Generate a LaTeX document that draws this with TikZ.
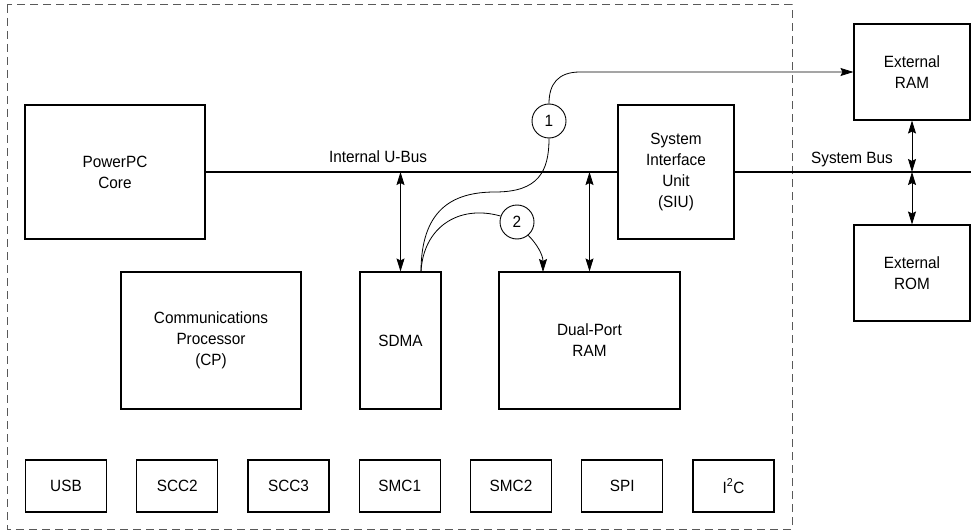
\documentclass[tikz,border=0pt]{standalone}
\usepackage{fontspec}
\setmainfont{Liberation Sans}[FakeStretch=0.94]
\usetikzlibrary{arrows.meta}
\begin{document}
\begin{tikzpicture}[x=1pt,y=-1pt,
  txt/.style={font=\fontsize{16.3}{21}\selectfont},
  blk/.style={draw, line width=1.1pt, align=center, inner sep=0pt, txt},
  lbl/.style={inner sep=0pt, txt, anchor=base},
  num/.style={draw, circle, line width=0.9pt, minimum size=34pt, inner sep=0pt, txt},
  bus/.style={line width=2pt},
  tip/.tip={Stealth[length=13pt,width=8pt,inset=2pt]},
  dbl/.style={line width=0.8pt, tip-tip},
  flow/.style={line width=0.8pt},
  chip/.style={draw=black!65, line width=1pt, dash pattern=on 8pt off 5pt}]
\useasboundingbox (0,0) rectangle (971,532);
% chip boundary
\draw[chip] (7,5) rectangle (792,529);
% main blocks
\node[blk, minimum width=180pt, minimum height=134pt] (ppc) at (115,172) {PowerPC\\Core};
\node[blk, minimum width=116pt, minimum height=134pt] (siu) at (676,172) {System\\Interface\\Unit\\(SIU)};
\node[blk, minimum width=116pt, minimum height=96pt] (extram) at (912,72) {External\\RAM};
\node[blk, minimum width=116pt, minimum height=96pt] (extrom) at (912,273) {External\\ROM};
\node[blk, minimum width=180pt, minimum height=137pt] (cp) at (211,340.5) {Communications\\Processor\\(CP)};
\node[blk, minimum width=81pt, minimum height=137pt] (sdma) at (400.5,340.5) {SDMA};
\node[blk, minimum width=181pt, minimum height=137pt] (dpram) at (589.5,340.5) {Dual-Port\\RAM};
% peripherals
\node[blk, minimum width=81pt, minimum height=52pt] (usb) at (66,486) {USB};
\node[blk, minimum width=81pt, minimum height=52pt] (scc2) at (177.25,486) {SCC2};
\node[blk, minimum width=81pt, minimum height=52pt] (scc3) at (288.5,486) {SCC3};
\node[blk, minimum width=81pt, minimum height=52pt] (smc1) at (399.75,486) {SMC1};
\node[blk, minimum width=81pt, minimum height=52pt] (smc2) at (511,486) {SMC2};
\node[blk, minimum width=81pt, minimum height=52pt] (spi) at (622.25,486) {SPI};
\node[blk, minimum width=81pt, minimum height=52pt] (iic) at (733.5,486) {I\textsuperscript{2}C};
% buses
\coordinate (busend) at (971,172);
\draw[bus] (ppc.east) -- (siu.west);
\draw[bus] (siu.east) -- (busend);
\node[lbl] (ulbl) at (378,162.5) {Internal U-Bus};
\node[lbl] (slbl) at (852,163) {System Bus};
% bus taps
\coordinate (sb) at (extram.south |- siu.east);
\draw[dbl] (extram.south) -- (sb);
\draw[dbl] (extrom.north) -- (sb);
\draw[dbl] (sdma.north) -- (sdma.north |- ppc.east);
\draw[dbl] (dpram.north) -- (dpram.north |- ppc.east);
% data flows
\node[num] (c1) at (549,121) {1};
\node[num] (c2) at (517,222) {2};
\coordinate (s) at (421,272);
\coordinate (d2) at (543,272);
\draw[flow] (s) .. controls (421,210) and (452,192) .. (495,192)
  .. controls (538,192) and (549,172) .. (c1.south);
\draw[flow, -tip] (c1.north) .. controls (549,84) and (558,72) .. (580,72) -- (extram.west);
\draw[flow] (s) .. controls (423,228) and (458,204) .. (c2.160);
\draw[flow, -tip] (c2.-50) .. controls (537,244) and (543,255) .. (d2);
\end{tikzpicture}
\end{document}
